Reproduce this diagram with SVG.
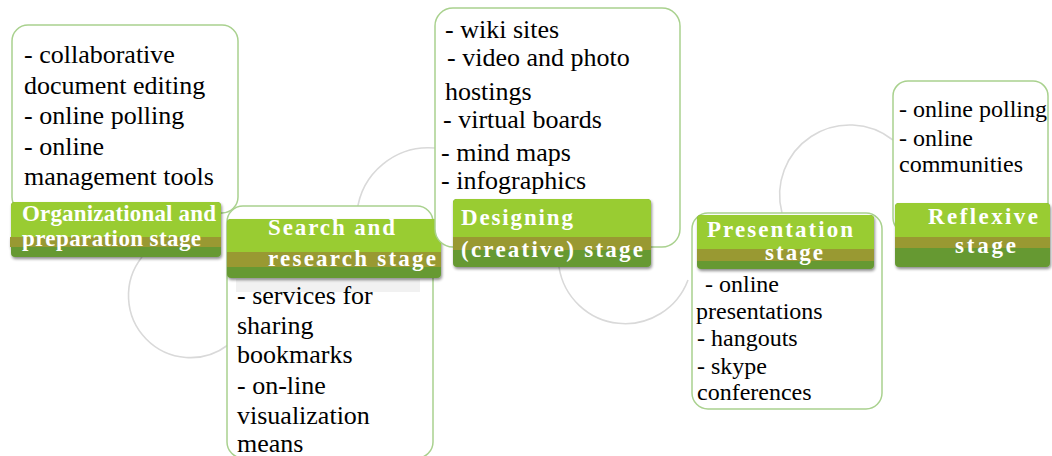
<svg xmlns="http://www.w3.org/2000/svg" width="1052" height="456" viewBox="0 0 1052 456">
  <defs>
    <filter id="shadow" x="-5%" y="-20%" width="112%" height="150%">
      <feGaussianBlur in="SourceAlpha" stdDeviation="1.6"/>
      <feOffset dx="1" dy="2" result="b"/>
      <feComponentTransfer><feFuncA type="linear" slope="0.45"/></feComponentTransfer>
      <feMerge><feMergeNode/><feMergeNode in="SourceGraphic"/></feMerge>
    </filter>
    <filter id="soft" x="-10%" y="-10%" width="120%" height="120%">
      <feGaussianBlur stdDeviation="0.5"/>
    </filter>
  </defs>
  <style>
    .ring { fill: none; stroke: #d9d9d9; stroke-width: 1.6; }
    .card { fill: #ffffff; stroke: #a9d18e; stroke-width: 1.5; }
    .lime { fill: #99cc33; }
    .olive { fill: #999933; }
    .green { fill: #669933; }
    .item { font-size: 26px; fill: #000000; }
    .small { font-size: 24px; }
    .head { font-size: 23px; font-weight: bold; fill: #ffffff; }
  </style>

  <rect width="1052" height="456" fill="#ffffff"/>

  <!-- looping arcs that link the stages -->
  <g id="connectors" filter="url(#soft)">
    <path class="ring" d="M 142 257 A 62 62 0 0 0 228 345"/>
    <path class="ring" d="M 357 212 A 72 72 0 0 1 435 148"/>
    <path class="ring" d="M 559 267 A 67 67 0 0 0 688 280"/>
    <path class="ring" d="M 782 213 A 70 70 0 0 1 893 140"/>
  </g>

  <g font-family="'Liberation Serif', 'Times New Roman', Times, serif">
  <!-- stage 1 -->
  <g id="stage-organizational">
    <rect class="card" x="12" y="25" width="226" height="188" rx="16"/>
    <text class="item" x="24" y="63">- collaborative</text>
    <text class="item" x="24" y="94">document editing</text>
    <text class="item" x="24" y="124">- online polling</text>
    <text class="item" x="24" y="155">- online</text>
    <text class="item" x="24" y="185">management tools</text>
    <g filter="url(#shadow)">
      <rect class="green" x="11" y="202" width="210" height="55" rx="4"/>
      <rect class="lime" x="11" y="202" width="210" height="45" rx="4"/>
      <rect class="olive" x="10" y="237" width="211" height="10"/>
    </g>
    <text class="head" x="22" y="221" textLength="194">Organizational and</text>
    <text class="head" x="22" y="246" textLength="179">preparation stage</text>
  </g>

  <!-- stage 2 -->
  <g id="stage-search">
    <rect class="card" x="227" y="206" width="206" height="252" rx="16"/>
    <rect x="236" y="279" width="184" height="13" fill="#f1f1f1"/>
    <text class="item" x="237" y="304">- services for</text>
    <text class="item" x="237" y="334">sharing</text>
    <text class="item" x="237" y="363">bookmarks</text>
    <text class="item" x="237" y="394">- on-line</text>
    <text class="item" x="237" y="424">visualization</text>
    <text class="item" x="237" y="452">means</text>
    <g filter="url(#shadow)">
      <rect class="green" x="227" y="219" width="214" height="59" rx="4"/>
      <rect class="lime" x="227" y="219" width="214" height="48" rx="4"/>
      <rect class="olive" x="227" y="252" width="214" height="15"/>
    </g>
    <text class="head" x="268" y="235" textLength="127">Search and</text>
    <text class="head" x="268" y="266" textLength="168">research stage</text>
  </g>

  <!-- stage 3 -->
  <g id="stage-designing">
    <rect class="card" x="435" y="8" width="245" height="239" rx="18"/>
    <text class="item" x="445" y="38">- wiki sites</text>
    <text class="item" x="447" y="66">- video and photo</text>
    <text class="item" x="445" y="100">hostings</text>
    <text class="item" x="443" y="128">- virtual boards</text>
    <text class="item" x="441" y="161">- mind maps</text>
    <text class="item" x="441" y="189">- infographics</text>
    <g filter="url(#shadow)">
      <rect class="green" x="453" y="199" width="198" height="68" rx="4"/>
      <rect class="lime" x="453" y="199" width="198" height="51" rx="4"/>
      <rect class="olive" x="453" y="237" width="198" height="13"/>
    </g>
    <text class="head" x="461" y="225" textLength="112">Designing</text>
    <text class="head" x="461" y="257" textLength="182">(creative) stage</text>
  </g>

  <!-- stage 4 -->
  <g id="stage-presentation">
    <rect class="card" x="692" y="213" width="190" height="196" rx="16"/>
    <text class="item small" x="705" y="292">- online</text>
    <text class="item small" x="696" y="319">presentations</text>
    <text class="item small" x="697" y="346">- hangouts</text>
    <text class="item small" x="697" y="374">- skype</text>
    <text class="item small" x="697" y="400">conferences</text>
    <g filter="url(#shadow)">
      <rect class="green" x="697" y="215" width="177" height="54" rx="4"/>
      <rect class="lime" x="697" y="215" width="177" height="46" rx="4"/>
      <rect class="olive" x="697" y="249" width="177" height="12"/>
    </g>
    <text class="head" x="707" y="237" textLength="146">Presentation</text>
    <text class="head" x="765" y="260" textLength="58">stage</text>
  </g>

  <!-- stage 5 -->
  <g id="stage-reflexive">
    <rect class="card" x="893" y="81" width="155" height="152" rx="15"/>
    <text class="item small" x="899" y="117">- online polling</text>
    <text class="item small" x="899" y="146">- online</text>
    <text class="item small" x="899" y="172">communities</text>
    <g filter="url(#shadow)">
      <rect class="green" x="895" y="203" width="155" height="64" rx="4"/>
      <rect class="lime" x="895" y="203" width="155" height="45" rx="4"/>
      <rect class="olive" x="895" y="237" width="155" height="11"/>
    </g>
    <text class="head" x="928" y="224" textLength="110">Reflexive</text>
    <text class="head" x="955" y="253" textLength="61">stage</text>
  </g>
  </g>
</svg>
